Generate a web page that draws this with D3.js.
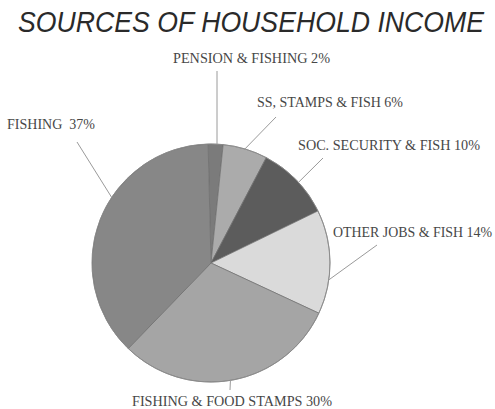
<!DOCTYPE html>
<html>
<head>
<meta charset="utf-8">
<script src="https://cdn.jsdelivr.net/npm/d3@7"></script>
<style>
  html, body { margin: 0; padding: 0; background: #ffffff; }
  svg { display: block; }
  .title { font-family: "Liberation Sans", Arial, sans-serif; font-style: italic; fill: #2a2a2a; }
  .label { font-family: "Liberation Serif", "Times New Roman", serif; fill: #474747; white-space: pre; }
</style>
</head>
<body>
<script>
// Income sources, clockwise from the top of the pie
const categories = ["PENSION & FISHING", "SS, STAMPS & FISH", "SOC. SECURITY & FISH",
                    "OTHER JOBS & FISH", "FISHING & FOOD STAMPS", "FISHING"];
const shares = [2, 6, 10, 14, 30, 37];
const labelGaps = [" ", " ", " ", " ", " ", "  "];
const greys = ["#7b7b7b", "#ababab", "#5c5c5c", "#dadada", "#a5a5a5", "#878787"];

const W = 495, H = 409;
const cx = 211, cy = 263, R = 119;

// label placement: text anchor, baseline, fitted width, leader end, where the leader meets the slice
const labelLayout = [
  { x: 173, y: 63,  w: 157, lx: 217, ly: 71,  f: 0.59 },
  { x: 257, y: 107, w: 146, lx: 276, ly: 117, f: 0.49 },
  { x: 298, y: 150, w: 182, lx: 323, ly: 158, f: 0.54 },
  { x: 333, y: 237, w: 159, lx: 377, ly: 245, f: 0.67 },
  { x: 132, y: 406, w: 200, lx: 230, ly: 390, f: 0.51 },
  { x: 7,   y: 129, w: 88,  lx: 77,  ly: 142, f: 0.59 }
];

const svg = d3.select("body").append("svg")
  .attr("width", W).attr("height", H);

svg.append("text")
  .attr("class", "title")
  .attr("transform", "translate(18,32) scale(1,1.08)")
  .attr("font-size", 27)
  .attr("textLength", 466)
  .attr("lengthAdjust", "spacingAndGlyphs")
  .text("SOURCES OF HOUSEHOLD INCOME");

const start = -1.4 * Math.PI / 180;
const pie = d3.pie().sort(null).value(d => d)
  .startAngle(start).endAngle(start + 2 * Math.PI);
const arcs = pie(shares);
const arc = d3.arc().innerRadius(0).outerRadius(R);

const g = svg.append("g").attr("transform", `translate(${cx},${cy})`);

g.selectAll("path.slice")
  .data(arcs)
  .join("path")
  .attr("class", "slice")
  .attr("d", arc)
  .attr("fill", (d, i) => greys[i])
  .attr("stroke", "#6e6e6e")
  .attr("stroke-width", 0.7);

g.append("circle")
  .attr("r", R)
  .attr("fill", "none")
  .attr("stroke", "#8a8a8a")
  .attr("stroke-width", 0.8);

// leader lines from the rim of each slice out to its label
svg.selectAll("line.leader")
  .data(arcs)
  .join("line")
  .attr("class", "leader")
  .each(function (d, i) {
    const L = labelLayout[i];
    const a = d.startAngle + L.f * (d.endAngle - d.startAngle);
    d3.select(this)
      .attr("x1", cx + R * Math.sin(a))
      .attr("y1", cy - R * Math.cos(a))
      .attr("x2", L.lx)
      .attr("y2", L.ly);
  })
  .attr("stroke", "#9a9a9a")
  .attr("stroke-width", 1);

svg.selectAll("text.label")
  .data(arcs)
  .join("text")
  .attr("class", "label")
  .attr("x", (d, i) => labelLayout[i].x)
  .attr("y", (d, i) => labelLayout[i].y)
  .attr("font-size", 14)
  .attr("textLength", (d, i) => labelLayout[i].w)
  .attr("lengthAdjust", "spacingAndGlyphs")
  .text((d, i) => categories[i] + labelGaps[i] + d.data + "%");
</script>
</body>
</html>
